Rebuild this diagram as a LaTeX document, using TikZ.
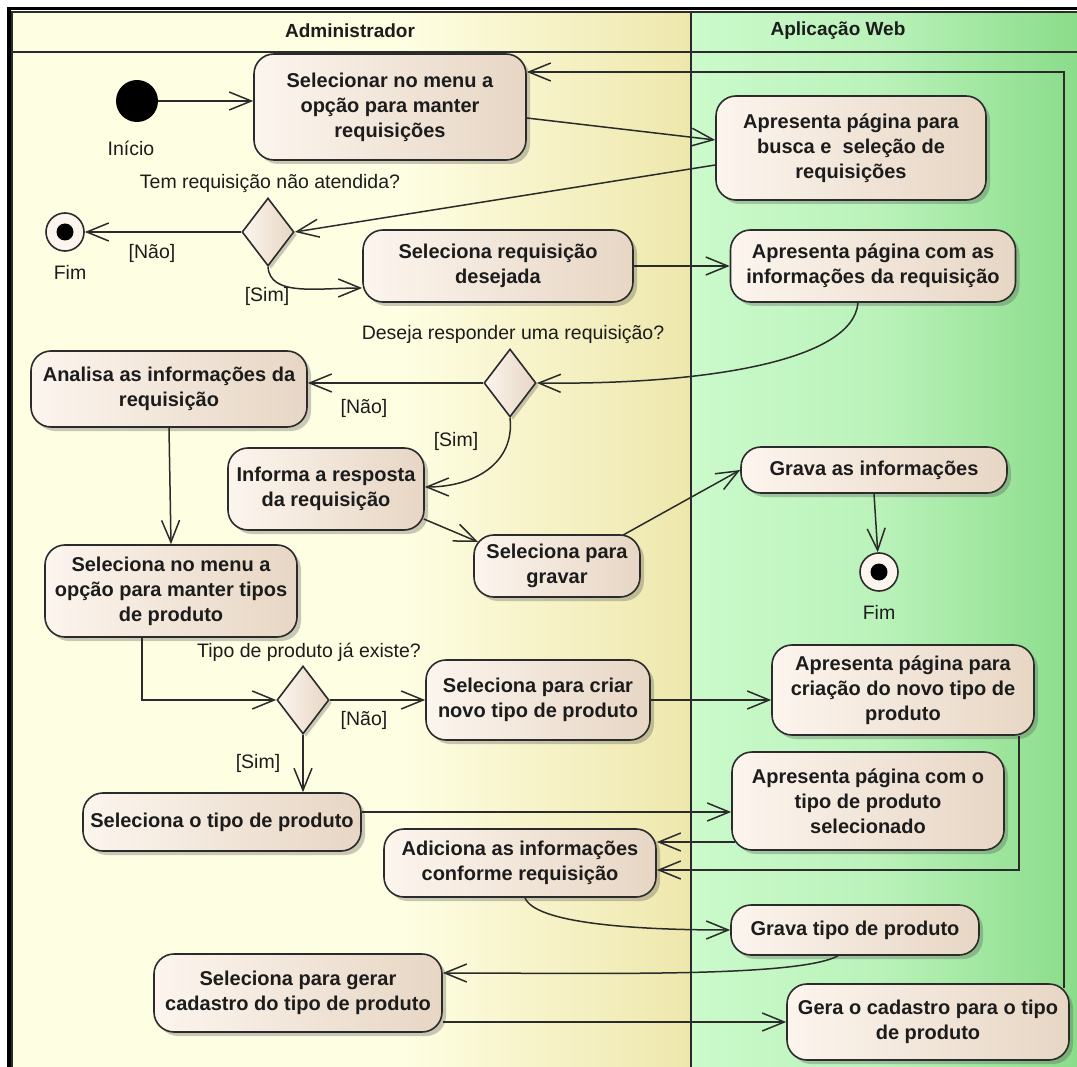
\documentclass[tikz,border=0pt]{standalone}
\usepackage{fontspec}
\setmainfont{Liberation Sans}
\usetikzlibrary{arrows.meta,shapes.geometric,shadows,calc}

\definecolor{ink}{HTML}{1C1C1C}
\definecolor{rule}{HTML}{2B2B2B}
\definecolor{boxlight}{HTML}{FCF5EE}
\definecolor{boxdark}{HTML}{E7D6C4}
\definecolor{admA}{HTML}{FEFEE3}
\definecolor{admB}{HTML}{EEE7AC}
\definecolor{webA}{HTML}{CBFACB}
\definecolor{webM}{HTML}{BAF2BA}
\definecolor{webB}{HTML}{8ADC8A}

\newcommand{\actfont}{\fontsize{20}{25}\selectfont\bfseries}
\newcommand{\lblfont}{\fontsize{19.5}{23}\selectfont}

\begin{document}
\begin{tikzpicture}[x=1pt,y=-1pt,
  act/.style={draw=rule, line width=1.6pt, rounded corners=20pt,
    left color=boxlight, right color=boxdark, text=ink, align=center,
    font=\actfont, inner sep=2pt,
    drop shadow={shadow xshift=4pt, shadow yshift=-4pt, opacity=0.3, fill=black!70}},
  decision/.style={diamond, draw=rule, line width=1.6pt, left color=boxlight,
    right color=boxdark, minimum width=52pt, minimum height=68pt, inner sep=0pt,
    drop shadow={shadow xshift=3pt, shadow yshift=-3pt, opacity=0.3, fill=black!70}},
  initial/.style={circle, fill=black, minimum size=42pt, inner sep=0pt},
  final/.style={circle, draw=rule, line width=1.6pt, fill=boxlight, minimum size=38pt,
    inner sep=0pt, path picture={\fill[black] (path picture bounding box.center) circle (8.5pt);}},
  lbl/.style={font=\lblfont, text=ink, inner sep=0pt},
  lane/.style={font=\fontsize{19}{22}\selectfont\bfseries, text=ink, inner sep=0pt},
  flow/.style={draw=rule, line width=1.5pt, -{Straight Barb[length=22pt,width=18pt]}},
]
\useasboundingbox (0,0) rectangle (1077,1067);

% swimlane backgrounds
\fill[admA] (12,12) rectangle (400,1067);
\shade[left color=admA, right color=admB] (400,12) rectangle (691,1067);
\shade[left color=webA, right color=webM] (691,12) rectangle (880,1067);
\shade[left color=webM, right color=webB] (880,12) rectangle (1077,1067);

% swimlane frame
\draw[rule, line width=1.5pt] (12,1067) -- (12,12) -- (1077,12);
\draw[rule, line width=1.5pt] (12,52) -- (1077,52);
\draw[rule, line width=1.5pt] (691,12) -- (691,1067);
\draw[black, line width=3.5pt] (8.75,1067) -- (8.75,8.75) -- (1077,8.75);

\node[lane] (hAdm) at (350,31) {Administrador};
\node[lane] (hWeb) at (838,31) {Aplicação Web};

% activities
\node[act, minimum width=272pt, minimum height=106pt] (A1) at (390,107) {Selecionar no menu a\\opção para manter\\requisições};
\node[act, minimum width=270pt, minimum height=104pt] (A2) at (851,148) {Apresenta página para\\busca e\ \ seleção de\\requisições};
\node[act, minimum width=270pt, minimum height=72pt] (A3) at (498,266) {Seleciona requisição\\desejada};
\node[act, minimum width=285pt, minimum height=72pt] (A4) at (873,266) {Apresenta página com as\\informações da requisição};
\node[act, minimum width=276pt, minimum height=76pt] (A5) at (169,389) {Analisa as informações da\\requisição};
\node[act, minimum width=196pt, minimum height=82pt] (A6) at (326,489) {Informa a resposta\\da requisição};
\node[act, minimum width=166pt, minimum height=62pt] (A7) at (557,566) {Seleciona para\\gravar};
\node[act, minimum width=266pt, minimum height=46pt] (A8) at (874,470) {Grava as informações};
\node[act, minimum width=252pt, minimum height=92pt] (A9) at (171,591) {Seleciona no menu a\\opção para manter tipos\\de produto};
\node[act, minimum width=224pt, minimum height=80pt] (A10) at (538,700) {Seleciona para criar\\novo tipo de produto};
\node[act, minimum width=262pt, minimum height=90pt] (A11) at (903,690) {Apresenta página para\\criação do novo tipo de\\produto};
\node[act, minimum width=278pt, minimum height=58pt] (A12) at (222,822) {Seleciona o tipo de produto};
\node[act, minimum width=272pt, minimum height=98pt] (A13) at (868,801) {Apresenta página com o\\tipo de produto\\selecionado};
\node[act, minimum width=272pt, minimum height=68pt] (A14) at (520,863) {Adiciona as informações\\conforme requisição};
\node[act, minimum width=248pt, minimum height=50pt] (A15) at (855,930) {Grava tipo de produto};
\node[act, minimum width=288pt, minimum height=78pt] (A16) at (298,993) {Seleciona para gerar\\cadastro do tipo de produto};
\node[act, minimum width=282pt, minimum height=76pt] (A17) at (928,1022) {Gera o cadastro para o tipo\\de produto};

% control nodes
\node[initial] (S) at (137,101) {};
\node[lbl] (tS) at (131,148) {Início};
\node[final] (F1) at (65,232) {};
\node[lbl] (tF1) at (70,272) {Fim};
\node[final] (F2) at (879,572) {};
\node[lbl] (tF2) at (879,612) {Fim};
\node[decision] (D1) at (268,232) {};
\node[decision] (D2) at (510,383) {};
\node[decision] (D3) at (303,700) {};

% guards and questions
\node[lbl] (q1) at (270,184) {Tem requisição não atendida?};
\node[lbl] (g1n) at (152,253) {[Não]};
\node[lbl] (g1s) at (267,296) {[Sim]};
\node[lbl] (q2) at (513,335) {Deseja responder uma requisição?};
\node[lbl] (g2n) at (364,408) {[Não]};
\node[lbl] (g2s) at (456,441) {[Sim]};
\node[lbl] (q3) at (309,652) {Tipo de produto já existe?};
\node[lbl] (g3n) at (364,720) {[Não]};
\node[lbl] (g3s) at (258,763) {[Sim]};

% flows
\draw[flow] (S.east) -- (S.east -| A1.west);
\draw[flow] ($(A1.east)+(0,11)$) -- ($(A2.west)+(0,-8)$);
\draw[flow] ($(A2.west)+(0,17)$) -- (D1.east);
\draw[flow] (D1.west) -- (F1.east);
\draw[flow] (D1.south) .. controls +(2,30) and +(-45,0) .. ($(A3.west)+(0,22)$);
\draw[flow] (A3.east) -- (A4.west);
\draw[flow] ($(A4.south)+(-15,0)$) .. controls +(-5,60) and +(160,2) .. (D2.east);
\draw[flow] (D2.west) -- ($(A5.east)+(0,-6)$);
\draw[flow] (D2.south) .. controls +(5,45) and +(50,0) .. ($(A6.east)+(0,-2)$);
\draw[flow] ($(A6.east)+(-1,30)$) -- ($(A7.west)+(5,-24)$);
\draw[flow] ($(A7.north east)+(-18,1)$) -- (A8.west);
\draw[flow] (A8.south) -- (F2);
\draw[flow] (A5.south) -- (A9.north);
\draw[flow] ($(A9.south)+(-29,0)$) |- (D3.west);
\draw[flow] (D3.east) -- (A10.west);
\draw[flow] (D3.south) -- (D3.south |- A12.north);
\draw[flow] (A10.east) -- (A10.east -| A11.west);
\draw[flow] (A12.east |- 0,812) -- (A13.west |- 0,812);
\draw[flow] ($(A13.west |- 0,842)+(4,0)$) -- (A14.east |- 0,842);
\draw[flow] ($(A11.south east)+(-16,0)$) |- (A14.east |- 0,870);
\draw[flow] ($(A14.south)+(5,0)$) .. controls +(10,25) and +(-100,0) .. (A15.west);
\draw[flow] ($(A15.south)+(-17,0)$) .. controls +(-40,22) and +(150,0) .. ($(A16.east)+(0,-20)$);
\draw[flow] (A16.east |- A17.west) -- (A17.west);
\draw[flow] ($(A17.north east)+(-6,5)$) |- ($(A1.east)+(0,-35)$);
\end{tikzpicture}
\end{document}
